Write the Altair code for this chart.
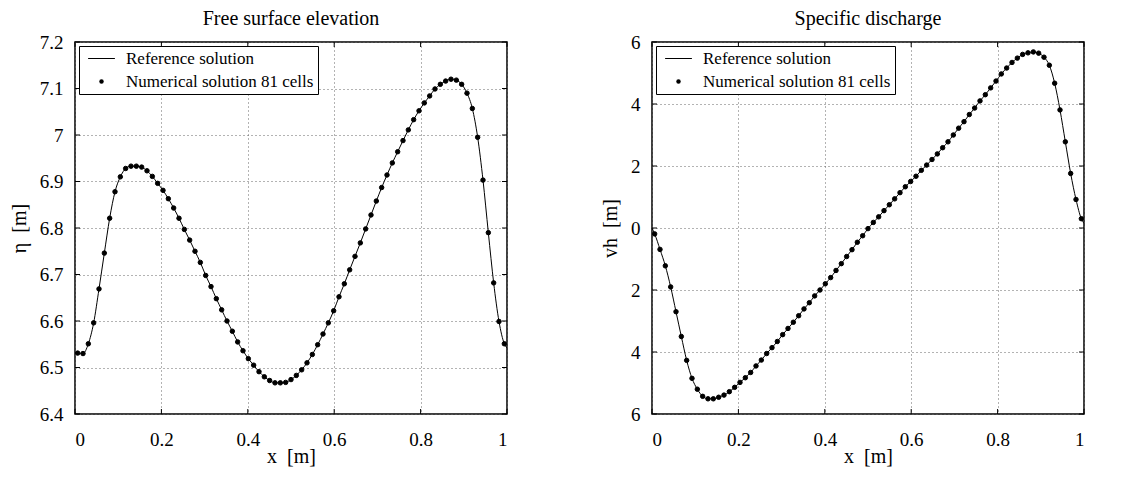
import altair as alt
import pandas as pd

FONT = "Liberation Serif"
N_CELLS = 81
x_cells = [(i + 0.5) / N_CELLS for i in range(N_CELLS)]

x_ticks = [0, 0.2, 0.4, 0.6, 0.8, 1]
eta_ticks = [6.4, 6.5, 6.6, 6.7, 6.8, 6.9, 7.0, 7.1, 7.2]
q_ticks = [-6, -4, -2, 0, 2, 4, 6]

# Free surface elevation, numerical solution (81 cells)
eta_num = [
    6.531, 6.530, 6.551, 6.596, 6.669, 6.746, 6.821, 6.878, 6.910, 6.928,
    6.933, 6.933, 6.931, 6.923, 6.911, 6.896, 6.881, 6.863, 6.843, 6.821,
    6.797, 6.774, 6.750, 6.726, 6.698, 6.674, 6.648, 6.624, 6.600, 6.578,
    6.555, 6.536, 6.519, 6.505, 6.491, 6.480, 6.472, 6.467, 6.467, 6.468,
    6.474, 6.483, 6.495, 6.510, 6.528, 6.549, 6.572, 6.596, 6.622, 6.652,
    6.680, 6.710, 6.739, 6.768, 6.798, 6.828, 6.858, 6.887, 6.914, 6.940,
    6.964, 6.988, 7.011, 7.033, 7.052, 7.069, 7.084, 7.099, 7.109, 7.116,
    7.120, 7.118, 7.109, 7.090, 7.057, 6.995, 6.903, 6.790, 6.682, 6.599,
    6.551,
]
# Specific discharge, numerical solution (81 cells)
q_num = [
    -0.19, -0.69, -1.22, -1.90, -2.70, -3.50, -4.27, -4.85, -5.20, -5.43,
    -5.51, -5.51, -5.46, -5.39, -5.28, -5.14, -4.98, -4.83, -4.66, -4.45,
    -4.26, -4.05, -3.86, -3.66, -3.44, -3.24, -3.04, -2.83, -2.61, -2.41,
    -2.19, -2.00, -1.80, -1.60, -1.37, -1.15, -0.92, -0.70, -0.46, -0.25,
    -0.02, 0.18, 0.36, 0.56, 0.75, 0.94, 1.14, 1.33, 1.50, 1.67,
    1.86, 2.03, 2.21, 2.39, 2.59, 2.78, 3.00, 3.22, 3.43, 3.66,
    3.87, 4.10, 4.30, 4.52, 4.74, 4.97, 5.16, 5.34, 5.48, 5.60,
    5.65, 5.68, 5.64, 5.51, 5.25, 4.67, 3.81, 2.78, 1.76, 0.92,
    0.30,
]
# Reference solution boundary values
eta_ref_ends = [6.531, 6.542]
q_ref_ends = [0.0, 0.15]

series_names = ["Reference solution", "Numerical solution 81 cells"]
NB = "\u00a0"
LINE_SYMBOL = "M-6,-0.22L6,-0.22L6,0.22L-6,0.22Z"
W, H, TICK = 432, 372, 5


def panel(num_y, ends, ydomain, yticks, ytitle, title, label_expr=None):
    ref_df = pd.DataFrame({"x": [0.0] + x_cells + [1.0],
                           "y": [ends[0]] + num_y + [ends[1]]})
    num_df = pd.DataFrame({"x": x_cells, "y": num_y, "series": series_names[1]})
    xt_df = pd.DataFrame({"x": x_ticks})
    yt_df = pd.DataFrame({"y": yticks})

    xenc = alt.X("x:Q", scale=alt.Scale(domain=[0, 1], nice=False, zero=False),
                 axis=alt.Axis(values=x_ticks, format="~g", title=f"x{NB}{NB}[m]",
                               labelPadding=16, titlePadding=-3))
    yaxis_kwargs = dict(values=yticks, format="~g", title=ytitle,
                        labelPadding=12, titlePadding=10)
    if label_expr:
        yaxis_kwargs["labelExpr"] = label_expr
    yenc = alt.Y("y:Q", scale=alt.Scale(domain=ydomain, nice=False, zero=False),
                 axis=alt.Axis(**yaxis_kwargs))

    # inward tick marks on all four sides of the frame
    tick_style = dict(color="black", strokeWidth=1)
    top_t = alt.Chart(xt_df).mark_rule(**tick_style).encode(
        x=xenc, y=alt.value(0), y2=alt.value(TICK))
    bot_t = alt.Chart(xt_df).mark_rule(**tick_style).encode(
        x=xenc, y=alt.value(H - TICK), y2=alt.value(H))
    left_t = alt.Chart(yt_df).mark_rule(**tick_style).encode(
        y=yenc, x=alt.value(0), x2=alt.value(TICK))
    right_t = alt.Chart(yt_df).mark_rule(**tick_style).encode(
        y=yenc, x=alt.value(W - TICK), x2=alt.value(W))

    line = alt.Chart(ref_df).mark_line(color="black", strokeWidth=1,
                                       interpolate="monotone").encode(x=xenc, y=yenc)
    pts = alt.Chart(num_df).mark_point(filled=True, fill="black", stroke="black",
                                       strokeWidth=1, opacity=1, size=20).encode(
        x=xenc, y=yenc,
        shape=alt.Shape("series:N",
                        scale=alt.Scale(domain=series_names,
                                        range=[LINE_SYMBOL, "circle"]),
                        legend=alt.Legend(
                            title=None, orient="top-left", offset=4,
                            strokeColor="black", fillColor="white", padding=4,
                            labelFont=FONT, labelFontSize=17, labelColor="black",
                            labelLimit=400, labelAlign="left",
                            symbolSize=20, symbolStrokeColor="black",
                            symbolStrokeWidth=0.6, symbolFillColor="black",
                            symbolOffset=10, labelOffset=16, rowPadding=5)),
    )
    return alt.layer(top_t, bot_t, left_t, right_t, line, pts).properties(
        width=W, height=H,
        title=alt.Title(title, font=FONT, fontSize=20, fontWeight="normal",
                        color="black", offset=4))


left = panel(eta_num, eta_ref_ends, [6.4, 7.2], eta_ticks, f"η{NB}{NB}[m]",
             "Free surface elevation")
right = panel(q_num, q_ref_ends, [-6, 6], q_ticks, f"vh{NB}{NB}[m]",
              "Specific discharge", label_expr="abs(datum.value)")

chart = alt.hconcat(left, right, spacing=89).properties(
    padding={"left": 0, "top": 0, "right": 0, "bottom": 0}
).configure_view(
    stroke="black", strokeWidth=1.5
).configure_axis(
    labelFont=FONT, titleFont=FONT, labelFontSize=19, titleFontSize=20,
    titleFontWeight="normal", labelColor="black", titleColor="black",
    grid=True, gridDash=[1, 3], gridColor="#666", gridWidth=1,
    domain=False, ticks=False
).resolve_scale(shape="independent")

chart.save("out.html", embed_options={"renderer": "svg", "actions": False})
